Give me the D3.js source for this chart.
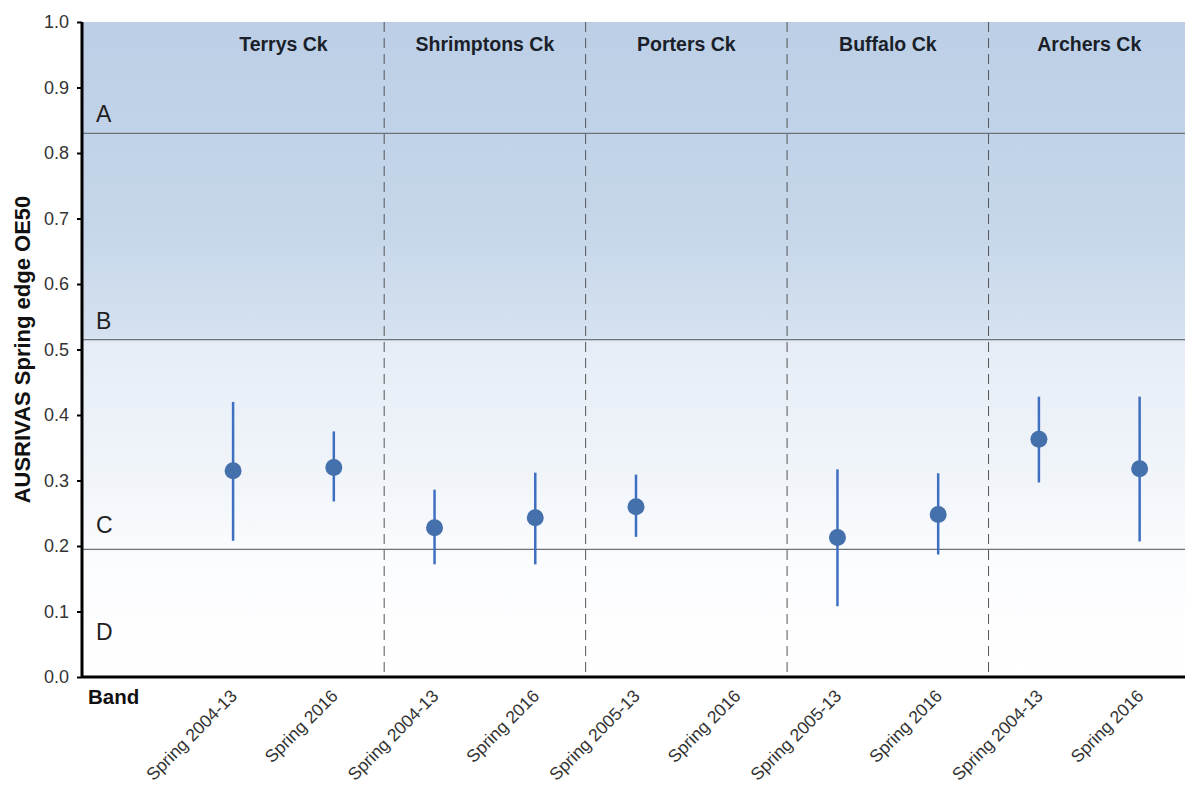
<!DOCTYPE html>
<html>
<head>
<meta charset="utf-8">
<script src="https://cdn.jsdelivr.net/npm/d3@7"></script>
<style>
  body { margin: 0; background: #fff; }
  svg { display: block; font-family: Arial, "Liberation Sans", sans-serif; }
</style>
</head>
<body>
<svg></svg>
<script>
const width = 1185;
const height = 787;

// categories (first slot is the "Band" column)
const categories = ['Band',
  'Terrys 2004-13', 'Terrys 2016',
  'Shrimptons 2004-13', 'Shrimptons 2016',
  'Porters 2005-13', 'Porters 2016',
  'Buffalo 2005-13', 'Buffalo 2016',
  'Archers 2004-13', 'Archers 2016'];
const tickLabels = ['',
  'Spring 2004-13', 'Spring 2016',
  'Spring 2004-13', 'Spring 2016',
  'Spring 2005-13', 'Spring 2016',
  'Spring 2005-13', 'Spring 2016',
  'Spring 2004-13', 'Spring 2016'];
const sites = ['Terrys Ck', 'Shrimptons Ck', 'Porters Ck', 'Buffalo Ck', 'Archers Ck'];

// OE50 mean, upper and lower (null = no sample)
const meanVals  = [null, 0.315, 0.320, 0.228, 0.243, 0.260, null, 0.213, 0.248, 0.363, 0.318];
const upperVals = [null, 0.420, 0.375, 0.286, 0.312, 0.309, null, 0.317, 0.311, 0.428, 0.428];
const lowerVals = [null, 0.208, 0.268, 0.172, 0.172, 0.214, null, 0.108, 0.187, 0.297, 0.207];

// band thresholds
const bandNames = ['A', 'B', 'C', 'D'];
const bandLines = [0.830, 0.515, 0.195];
const bandLabelY = [0.860, 0.543, 0.232, 0.069];

const yTicks = [0, 0.1, 0.2, 0.3, 0.4, 0.5, 0.6, 0.7, 0.8, 0.9, 1.0];

const plotLeft = 82, plotRight = 1190, plotTop = 22, plotBottom = 677;

const svg = d3.select('svg')
  .attr('width', width)
  .attr('height', height);

const x = d3.scaleBand().domain(categories).range([plotLeft, plotRight]);
const y = d3.scaleLinear().domain([0, 1]).range([plotBottom, plotTop]);

// background gradient
const defs = svg.append('defs');
const grad = defs.append('linearGradient')
  .attr('id', 'bg')
  .attr('x1', 0).attr('y1', 0).attr('x2', 0).attr('y2', 1);
const bOff = (1 - bandLines[1]);
[[0, '#bccfe6'], [0.3, '#c5d6ea'], [bOff - 0.005, '#d5e1ef'], [bOff + 0.005, '#e6edf6'],
 [0.7, '#f1f5fa'], [0.82, '#fbfcfe'], [1, '#ffffff']].forEach(s => {
  grad.append('stop').attr('offset', s[0]).attr('stop-color', s[1]);
});

svg.append('rect')
  .attr('x', plotLeft).attr('y', plotTop)
  .attr('width', width - plotLeft).attr('height', plotBottom - plotTop)
  .attr('fill', 'url(#bg)');

// band lines
svg.selectAll('.band-line').data(bandLines)
  .enter()
  .append('line')
  .attr('class', 'band-line')
  .attr('x1', plotLeft).attr('x2', width)
  .attr('y1', d => y(d)).attr('y2', d => y(d))
  .attr('stroke', '#6e7278')
  .attr('stroke-width', 1.3);

svg.selectAll('.band-label').data(bandNames)
  .enter()
  .append('text')
  .attr('class', 'band-label')
  .text(d => d)
  .attr('x', plotLeft + 14)
  .attr('y', (d, i) => y(bandLabelY[i]))
  .attr('dy', '0.35em')
  .attr('fill', '#1f1f1f')
  .attr('font-size', '23px');

// site dividers
const dividers = [3, 5, 7, 9].map(i => x(categories[i]));
svg.selectAll('.divider').data(dividers)
  .enter()
  .append('line')
  .attr('class', 'divider')
  .attr('x1', d => d).attr('x2', d => d)
  .attr('y1', plotTop).attr('y2', plotBottom)
  .attr('stroke', '#555')
  .attr('stroke-width', 1)
  .attr('stroke-dasharray', '10,6');

// site labels
svg.selectAll('.site').data(sites)
  .enter()
  .append('text')
  .attr('class', 'site')
  .text(d => d)
  .attr('x', (d, i) => (x(categories[2 * i + 1]) + x(categories[2 * i + 2]) + x.bandwidth()) / 2)
  .attr('y', 51)
  .attr('text-anchor', 'middle')
  .attr('font-weight', 'bold')
  .attr('font-size', '19.5px')
  .attr('fill', '#1a1f2a');

// error bars + points
const pts = categories.map((c, i) => ({ c, m: meanVals[i], hi: upperVals[i], lo: lowerVals[i] }))
  .filter(d => d.m !== null);
const cx = d => x(d.c) + x.bandwidth() / 2;

svg.selectAll('.err').data(pts)
  .enter()
  .append('line')
  .attr('class', 'err')
  .attr('x1', cx).attr('x2', cx)
  .attr('y1', d => y(d.hi)).attr('y2', d => y(d.lo))
  .attr('stroke', '#3f6fc0')
  .attr('stroke-width', 2.5);

svg.selectAll('.pt').data(pts)
  .enter()
  .append('circle')
  .attr('class', 'pt')
  .attr('cx', cx)
  .attr('cy', d => y(d.m))
  .attr('r', 8.5)
  .attr('fill', '#4470ab');

// y axis
const yAxis = svg.append('g')
  .attr('transform', `translate(${plotLeft},0)`)
  .call(d3.axisLeft(y).tickValues(yTicks).tickFormat(d3.format('.1f')).tickSize(5).tickPadding(8));
yAxis.select('.domain').attr('stroke', '#000').attr('stroke-width', 3).attr('d', `M0,${plotTop}V${plotBottom}`);
yAxis.selectAll('.tick line').attr('stroke', '#000').attr('stroke-width', 2);
yAxis.selectAll('.tick text')
  .attr('font-size', '18px')
  .attr('font-family', 'Arial, "Liberation Sans", sans-serif')
  .attr('fill', '#333');

// x axis
const xAxis = svg.append('g')
  .attr('transform', `translate(0,${plotBottom})`)
  .call(d3.axisBottom(x).tickSize(0).tickFormat((d, i) => tickLabels[i]));
xAxis.select('.domain').attr('stroke', '#000').attr('stroke-width', 3).attr('d', `M${plotLeft},0H${width}`);
xAxis.selectAll('.tick text')
  .attr('font-size', '17.5px')
  .attr('font-family', 'Arial, "Liberation Sans", sans-serif')
  .attr('fill', '#333')
  .attr('text-anchor', 'end')
  .attr('dy', null)
  .attr('y', 0)
  .attr('transform', 'translate(5,20) rotate(-45)');

svg.append('text')
  .text('Band')
  .attr('x', 88)
  .attr('y', 704)
  .attr('font-weight', 'bold')
  .attr('font-size', '20.5px')
  .attr('fill', '#111');

// y title
svg.append('text')
  .text('AUSRIVAS Spring edge OE50')
  .attr('transform', `translate(30,${(plotTop + plotBottom) / 2}) rotate(-90)`)
  .attr('text-anchor', 'middle')
  .attr('font-weight', 'bold')
  .attr('font-size', '22px')
  .attr('fill', '#111');
</script>
</body>
</html>
